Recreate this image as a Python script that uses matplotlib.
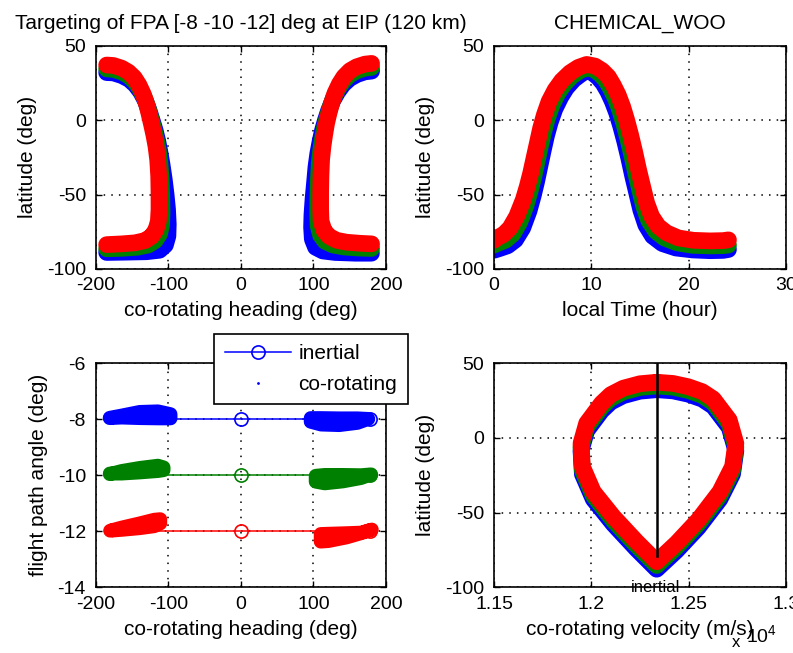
import matplotlib
matplotlib.use("Agg")
import matplotlib.pyplot as plt
from matplotlib.lines import Line2D
from matplotlib.ticker import FuncFormatter

# ---- top-left: latitude vs co-rotating heading (two branches per FPA)
tl_blu_left_hdg = [-184.9, -175.7, -164, -154, -145.5, -138, -131.5, -126.5, -122, -118, -114.5, -111.5,
                   -108.5, -105.5, -103, -101, -100, -100.5, -104, -112, -130, -160, -184.9]
tl_blu_left_lat = [32, 31.8, 30, 27.5, 23.8, 19, 13, 6.5, -0.5, -7, -14, -21.5,
                   -30, -40, -50, -60, -70, -78, -84, -87.5, -88.5, -88.8, -89]
tl_grn_left_hdg = [-184.9, -175.7, -164, -154.5, -146, -139, -132.8, -128, -124, -120.5, -117, -114,
                   -111.5, -109.8, -109, -108.6, -109.2, -112, -118, -128, -143, -164, -184.9]
tl_grn_left_lat = [34.5, 34.2, 32.4, 29.8, 26, 21, 15, 8.5, 1.5, -5, -12, -19.5,
                   -28.5, -39.5, -50.5, -62, -70.5, -76.5, -81, -84, -85.5, -86.2, -86.5]
tl_red_left_hdg = [-184.9, -175.7, -164.2, -155, -146.8, -140.3, -134.4, -129.8, -126.1, -122.9, -119.7, -116.9,
                   -114.6, -113.2, -112.8, -112.8, -113.7, -116.9, -122.9, -132.1, -145.9, -164.2, -184.9]
tl_red_left_lat = [37.1, 36.8, 35, 32.4, 28.6, 23.6, 17.4, 10.7, 3.5, -3.2, -10.3, -17.7,
                   -26.7, -37.8, -49, -60.2, -68, -73.6, -78.1, -81, -82.5, -83.2, -83.7]

tl_blu_right_hdg = [180.2, 171, 160, 150, 141, 133.5, 126.5, 121, 116.5, 112.5, 109, 106,
                    103.5, 101.5, 99.5, 98, 97.5, 98.5, 103, 113, 130, 158, 180]
tl_blu_right_lat = [33, 32.5, 30.7, 28, 24, 19, 13, 6.5, -0.2, -7, -14.8, -22.6,
                    -31.6, -42.5, -53, -63.5, -72, -80, -85.5, -88, -89, -89.5, -89.5]
tl_grn_right_hdg = [180.2, 171, 159.8, 150.2, 141.5, 134.5, 128, 123, 119, 115.5, 112.5, 110,
                    108, 106.8, 106.2, 106, 106.5, 110, 116, 127, 142, 162, 180.2]
tl_grn_right_lat = [35.5, 35, 33.2, 30.6, 26.5, 21.6, 15.4, 8.6, 1.9, -4.8, -12.6, -20.4,
                    -29.4, -40.5, -51.7, -62.9, -71, -77.5, -81.5, -84, -85.3, -86, -86.3]
tl_red_right_hdg = [180.2, 171, 159.6, 150.4, 142.1, 135.7, 129.7, 125.1, 121.4, 118.2, 115.5, 113.2,
                    111.3, 110.4, 110, 110, 110.6, 114.6, 121.4, 132, 145.8, 164.2, 180.2]
tl_red_right_lat = [38.2, 37.7, 35.9, 33.3, 29.2, 24.3, 18.1, 11.3, 4.6, -2.1, -9.9, -17.7,
                    -26.7, -37.8, -49, -60.2, -68, -74.1, -78.1, -80.8, -82.1, -82.8, -83.2]

# ---- top-right: latitude vs local time
tr_blu_time = [0, 0.5, 1.4, 2.2, 2.95, 3.6, 4.02, 4.37, 4.71, 5.05, 5.39, 5.77, 6.25, 6.85, 7.45, 8.2, 8.95,
               9.52, 10.1, 10.7, 11.2, 11.7, 12.17, 12.62, 13.03, 13.44, 13.85, 14.26, 14.67, 15.09, 15.6,
               16.3, 17.3, 18.7, 20.4, 22.2, 23.56, 24.1]
tr_blu_lat = [-87.5, -86.5, -84.5, -80.5, -72.5, -61, -51, -41.5, -31, -20.5, -10.5, -1.5, 7.5, 15.5, 21.8,
              27.3, 31, 33.3, 32, 28.7, 24.8, 19.2, 12.5, 4.7, -4.2, -14.3, -25.5, -37.8, -49, -60.5, -70.5,
              -78, -83, -86, -87.3, -87.8, -87.6, -87]
tr_grn_time = [0, 0.4, 1.2, 1.95, 2.65, 3.3, 3.72, 4.07, 4.41, 4.75, 5.09, 5.47, 5.95, 6.55, 7.2, 8.0, 8.8,
               9.52, 10.25, 10.9, 11.47, 11.97, 12.47, 12.92, 13.33, 13.74, 14.15, 14.56, 14.97, 15.39, 15.9,
               16.6, 17.5, 18.8, 20.4, 22.2, 23.56, 24.1]
tr_grn_lat = [-84, -82.8, -80.7, -76.5, -68.5, -57, -47.5, -38.5, -28.2, -18, -8, 1, 10, 18, 24.2, 29.6,
              33.2, 35.3, 34.2, 31, 27, 21.4, 14.7, 6.9, -2, -12.1, -23.3, -35.6, -46.7, -58, -67.5, -74.5,
              -79.2, -82.5, -84.2, -84.6, -84.4, -84]
tr_red_time = [0, 0.27, 0.96, 1.64, 2.33, 3.01, 3.42, 3.77, 4.11, 4.45, 4.79, 5.17, 5.65, 6.27, 6.95, 7.81,
               8.66, 9.52, 10.38, 11.13, 11.75, 12.26, 12.77, 13.22, 13.63, 14.04, 14.45, 14.86, 15.27, 15.69,
               16.2, 16.88, 17.74, 18.94, 20.48, 22.19, 23.56, 24.1]
tr_red_lat = [-80.8, -79.2, -77, -72.5, -64.7, -53.5, -44.5, -35.6, -25.5, -15.5, -5.4, 3.5, 12.5, 20.3,
              26.5, 31.9, 35.5, 37.5, 36.4, 33.3, 29.2, 23.6, 16.9, 9.1, 0.2, -9.9, -21.1, -33.4, -44.5,
              -55.7, -64.7, -71.4, -75.8, -79.2, -80.8, -81.2, -81, -80.5]

# ---- bottom-left: flight path angle vs heading
fpa_targets = [-8, -10, -12]
inertial_hdg = [-175, 0, 178]

bl_blu_L_hdg = [-181.4, -165, -140, -115, -97.6]
bl_blu_L_lo = [-7.94, -7.92, -7.94, -7.95, -7.95]
bl_blu_L_hi = [-7.93, -7.85, -7.72, -7.7, -7.8]
bl_blu_R_hdg = [95.6, 110, 135, 160, 175]
bl_blu_R_lo = [-8.07, -8.17, -8.19, -8.11, -7.97]
bl_blu_R_hi = [-7.94, -7.94, -7.95, -7.95, -7.97]

bl_grn_L_hdg = [-181.3, -165, -140, -115, -107.2]
bl_grn_L_lo = [-9.92, -9.92, -9.88, -9.83, -9.8]
bl_grn_L_hi = [-9.94, -9.83, -9.72, -9.64, -9.7]
bl_grn_R_hdg = [102.5, 115, 140, 165, 178.9]
bl_grn_R_lo = [-10.21, -10.27, -10.2, -10.08, -9.95]
bl_grn_R_hi = [-10.0, -9.97, -9.97, -9.98, -9.95]

bl_red_L_hdg = [-180.8, -165, -140, -120, -111.8]
bl_red_L_lo = [-11.96, -11.93, -11.87, -11.8, -11.7]
bl_red_L_hi = [-11.96, -11.85, -11.7, -11.57, -11.55]
bl_red_R_hdg = [109.4, 120, 145, 165, 179.8]
bl_red_R_lo = [-12.35, -12.33, -12.2, -12.05, -11.92]
bl_red_R_hi = [-12.08, -12.07, -12.05, -12.03, -11.92]

# ---- bottom-right: latitude vs co-rotating velocity (closed loops)
br_vel = [12336, 12250, 12164, 12100, 12053, 11976, 11947, 11954, 12010, 12113, 12233, 12336,
          12438, 12550, 12661, 12726, 12743, 12709, 12627, 12570, 12498, 12420, 12336]
br_blu_lat = [32.3, 31.3, 28.3, 24, 18.2, 4.8, -8.6, -24.2, -41, -57.7, -74.5, -87.9,
              -75.5, -59.9, -41, -24.2, -8.6, 7, 21.1, 26, 29.3, 31.5, 32.3]
br_grn_lat = [34.8, 33.8, 30.8, 26.5, 20.7, 7.3, -6.1, -21.7, -38.5, -55.2, -72, -85.4,
              -73, -57.4, -38.5, -21.7, -6.1, 9.5, 23.6, 28.5, 31.8, 34, 34.8]
br_red_lat = [37.3, 36.3, 33.3, 29, 23.2, 9.8, -3.6, -19.2, -36, -52.7, -69.5, -82.9,
              -70.5, -54.9, -36, -19.2, -3.6, 12, 26.1, 31, 34.3, 36.5, 37.3]
inertial_vel = [12338, 12338]
inertial_lat = [-79, 50]

BLUE, GREEN, RED = "#0000ff", "#008000", "#ff0000"

plt.rcParams["font.family"] = ["Liberation Sans", "DejaVu Sans"]
plt.rcParams["axes.unicode_minus"] = False
plt.rcParams["font.size"] = 14

fig = plt.figure(figsize=(7.93, 6.53), dpi=100)
ax1 = fig.add_axes([0.1207, 0.5883, 0.3660, 0.3415])
ax2 = fig.add_axes([0.6230, 0.5883, 0.3680, 0.3415])
ax3 = fig.add_axes([0.1207, 0.1006, 0.3660, 0.3431])
ax4 = fig.add_axes([0.6230, 0.1006, 0.3680, 0.3431])


def matlab_style(ax):
    ax.tick_params(direction="in", top=True, right=True, length=4, width=1,
                   labelsize=14, pad=6)
    ax.tick_params(axis="y", pad=7)
    ax.grid(True, color="k", linestyle=(0, (1, 4)), linewidth=1.1)
    ax.set_axisbelow(True)
    for s in ax.spines.values():
        s.set_linewidth(1.2)


band = dict(solid_capstyle="round", solid_joinstyle="round")

# top-left
for h, l, c in [(tl_blu_left_hdg, tl_blu_left_lat, BLUE), (tl_blu_right_hdg, tl_blu_right_lat, BLUE),
                (tl_grn_left_hdg, tl_grn_left_lat, GREEN), (tl_grn_right_hdg, tl_grn_right_lat, GREEN),
                (tl_red_left_hdg, tl_red_left_lat, RED), (tl_red_right_hdg, tl_red_right_lat, RED)]:
    ax1.plot(h, l, color=c, lw=12, **band)
ax1.set_xlim(-200, 200)
ax1.set_ylim(-100, 50)
ax1.set_xticks([-200, -100, 0, 100, 200])
ax1.set_yticks([-100, -50, 0, 50])
ax1.set_xlabel("co-rotating heading (deg)", fontsize=15, labelpad=5)
ax1.set_ylabel("latitude (deg)", fontsize=15, labelpad=7)
ax1.set_title("Targeting of FPA [-8 -10 -12] deg at EIP (120 km)", fontsize=15, pad=12)
matlab_style(ax1)

# top-right
ax2.plot(tr_blu_time, tr_blu_lat, color=BLUE, lw=12, **band)
ax2.plot(tr_grn_time, tr_grn_lat, color=GREEN, lw=12, **band)
ax2.plot(tr_red_time, tr_red_lat, color=RED, lw=12, **band)
ax2.set_xlim(0, 30)
ax2.set_ylim(-100, 50)
ax2.set_xticks([0, 10, 20, 30])
ax2.set_yticks([-100, -50, 0, 50])
ax2.set_xlabel("local Time (hour)", fontsize=15, labelpad=5)
ax2.set_ylabel("latitude (deg)", fontsize=15, labelpad=7)
ax2.set_title("CHEMICAL_WOO", fontsize=15, pad=12)
matlab_style(ax2)

# bottom-left: inertial targets (line + circles), co-rotating point clouds on top
for fpa, c in zip(fpa_targets, [BLUE, GREEN, RED]):
    ax3.plot(inertial_hdg, [fpa] * len(inertial_hdg), color=c, lw=1.1,
             marker="o", mfc="none", ms=9.5, mew=1.2, markevery=[1, 2])
blobs = [(bl_blu_L_hdg, bl_blu_L_lo, bl_blu_L_hi, BLUE), (bl_blu_R_hdg, bl_blu_R_lo, bl_blu_R_hi, BLUE),
         (bl_grn_L_hdg, bl_grn_L_lo, bl_grn_L_hi, GREEN), (bl_grn_R_hdg, bl_grn_R_lo, bl_grn_R_hi, GREEN),
         (bl_red_L_hdg, bl_red_L_lo, bl_red_L_hi, RED), (bl_red_R_hdg, bl_red_R_lo, bl_red_R_hi, RED)]
for h, lo, hi, c in blobs:
    ax3.fill_between(h, lo, hi, facecolor=c, edgecolor=c, linewidth=10, joinstyle="round", zorder=3)
ax3.set_xlim(-200, 200)
ax3.set_ylim(-14, -6)
ax3.set_xticks([-200, -100, 0, 100, 200])
ax3.set_yticks([-14, -12, -10, -8, -6])
ax3.set_xlabel("co-rotating heading (deg)", fontsize=15, labelpad=5)
ax3.set_ylabel("flight path angle (deg)", fontsize=15, labelpad=7)
matlab_style(ax3)
handles = [Line2D([], [], color=BLUE, lw=1.1, marker="o", mfc="none", ms=9.5, mew=1.2),
           Line2D([], [], color=BLUE, ls="none", marker=".", ms=2)]
leg = ax3.legend(handles, ["inertial", "co-rotating"], loc="upper left",
                 bbox_to_anchor=(0.270, 0.4885), bbox_transform=fig.transFigure,
                 fontsize=15, handlelength=3.2, handletextpad=0.35, labelspacing=0.55,
                 borderpad=0.5, borderaxespad=0, fancybox=False, framealpha=1,
                 edgecolor="k")
leg.get_frame().set_linewidth(1.2)

# bottom-right
ax4.plot(br_vel, br_blu_lat, color=BLUE, lw=12, **band)
ax4.plot(br_vel, br_grn_lat, color=GREEN, lw=12, **band)
ax4.plot(br_vel, br_red_lat, color=RED, lw=12, **band)
ax4.plot(inertial_vel, inertial_lat, color="k", lw=1.8, zorder=5)
ax4.text(12330, -100, "inertial", fontsize=12, ha="center", va="center", zorder=6)
ax4.set_xlim(11500, 13000)
ax4.set_ylim(-100, 50)
ax4.set_xticks([11500, 12000, 12500, 13000])
ax4.set_yticks([-100, -50, 0, 50])
ax4.xaxis.set_major_formatter(FuncFormatter(lambda v, p: f"{v / 1e4:g}"))
ax4.text(0.83, -0.245, "x", transform=ax4.transAxes, fontsize=12, ha="center", va="center")
ax4.text(0.865, -0.215, r"$\mathregular{10^4}$", transform=ax4.transAxes, fontsize=14,
         ha="left", va="center")
ax4.set_xlabel("co-rotating velocity (m/s)", fontsize=15, labelpad=5)
ax4.set_ylabel("latitude (deg)", fontsize=15, labelpad=7)
matlab_style(ax4)

fig.savefig("out.png", dpi=100)
